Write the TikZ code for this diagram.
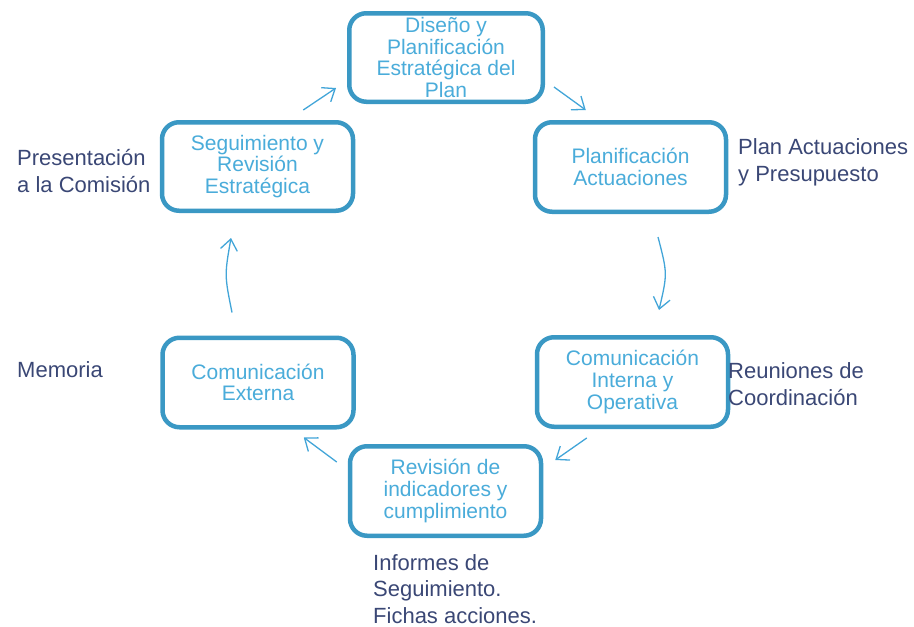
\documentclass[tikz,border=0pt]{standalone}
\usepackage{fontspec}
\setmainfont[Ligatures=NoCommon]{Liberation Sans}
\usetikzlibrary{arrows.meta,calc}
\definecolor{boxline}{HTML}{3A98C4}
\definecolor{boxtext}{HTML}{4AACDA}
\definecolor{arrowc}{HTML}{42A5D8}
\definecolor{labelc}{HTML}{3A4775}
\begin{document}
\begin{tikzpicture}[x=1pt,y=-1pt,
  stage/.style={draw=boxline,line width=4.5pt,rounded corners=17pt,fill=white,
    minimum width=191pt,minimum height=89.5pt,inner sep=0pt,align=center,
    text=boxtext,font=\fontsize{21}{21.6}\selectfont},
  note/.style={anchor=base west,align=left,inner sep=0pt,text=labelc,
    font=\fontsize{22}{26.5}\selectfont},
  flow/.style={draw=arrowc,line width=1.3pt,
    -{Straight Barb[length=11pt,width=17pt,line width=1.3pt]}}]
\useasboundingbox (0,0) rectangle (914,627);
% stages
\node[stage,minimum width=193.5pt,minimum height=88.5pt] (top) at (446,57.5) {Diseño y\\Planificación\\Estratégica del\\Plan};
\node[stage] (plan) at (630.5,167) {Planificación\\Actuaciones};
\node[stage] (cint) at (632.5,382) {Comunicación\\Interna y\\Operativa};
\node[stage] (rev) at (445.5,491) {Revisión de\\indicadores y\\cumplimiento};
\node[stage] (cext) at (258,382.5) {Comunicación\\Externa};
\node[stage,minimum height=88.5pt] (seg) at (257.5,166.5) {Seguimiento y\\Revisión\\Estratégica};
% notes (anchored at the baseline of their last line)
\node[note] (n1) at (17,192) {Presentación\\a la Comisión};
\node[note] (n2) at (738,181) {Plan Actuaciones\\y Presupuesto};
\node[note] (n3) at (17,377) {Memoria};
\node[note] (n4) at (728,405) {Reuniones de\\Coordinación};
\node[note] (n5) at (373,623) {Informes de\\Seguimiento.\\Fichas acciones.};
% arrow end points, placed relative to the stages
\coordinate (a1s) at ($(seg.north east)+(-52,-10)$);
\coordinate (a1e) at ($(top.south west)+(-11,-16)$);
\coordinate (a2s) at ($(top.south east)+(9,-17)$);
\coordinate (a2e) at ($(plan.north west)+(53,-10)$);
\coordinate (a3s) at ($(plan.south)+(27.5,23)$);
\coordinate (a3e) at ($(cint.north)+(26.5,-25)$);
\coordinate (a4s) at ($(cint.south west)+(52,9)$);
\coordinate (a4e) at ($(rev.north east)+(12,16)$);
\coordinate (a5s) at ($(rev.north west)+(-11,18)$);
\coordinate (a5e) at ($(cext.south east)+(-52,8)$);
\coordinate (a6s) at ($(cext.north)+(-26,-23)$);
\coordinate (a6e) at ($(seg.south)+(-26.5,25)$);
\draw[flow] (a1s) -- (a1e);
\draw[flow] (a2s) -- (a2e);
\draw[flow] (a3s) .. controls ($(a3s)!0.5!(a3e)+(9,0)$) .. (a3e);
\draw[flow] (a4s) -- (a4e);
\draw[flow] (a5s) -- (a5e);
\draw[flow] (a6s) .. controls ($(a6s)!0.5!(a6e)+(-7,0)$) .. (a6e);
\end{tikzpicture}
\end{document}
